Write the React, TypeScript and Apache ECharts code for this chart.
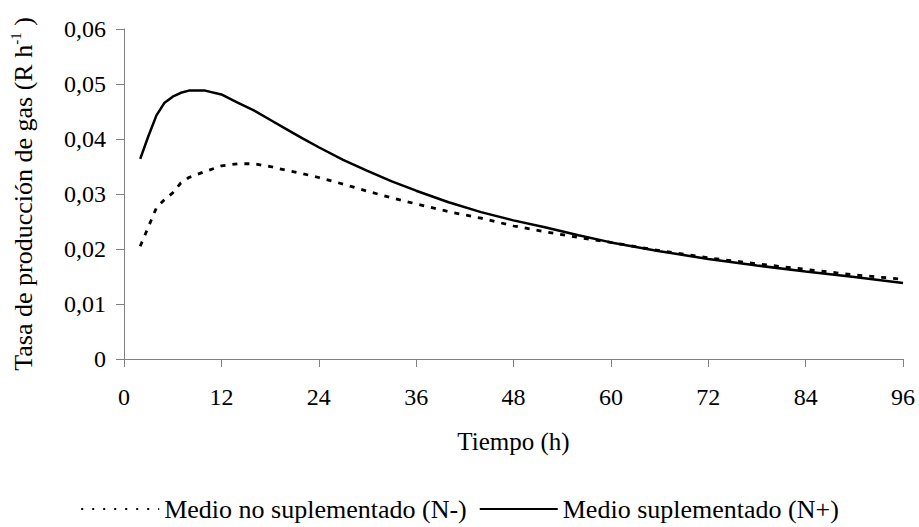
import React, { useEffect, useRef } from "react";
import * as echarts from "echarts";

const times = [2, 3, 4, 5, 6, 7, 8, 10, 12, 14, 16, 18, 20, 22, 24, 27, 30, 33, 36, 40, 44, 48, 52, 56, 60, 66, 72, 78, 84, 90, 96];
const supplemented = [0.0364, 0.0405, 0.0443, 0.0466, 0.0477, 0.0484, 0.0488, 0.0488, 0.0481, 0.0466, 0.0452, 0.0435, 0.0418, 0.0401, 0.0385, 0.0362, 0.0342, 0.0323, 0.0306, 0.0285, 0.0267, 0.0252, 0.0239, 0.0225, 0.0212, 0.0196, 0.0182, 0.0170, 0.0159, 0.0149, 0.0138];
const notSupplemented = [0.0205, 0.0240, 0.0275, 0.0290, 0.0302, 0.0320, 0.0330, 0.0341, 0.0351, 0.0355, 0.0355, 0.0350, 0.0343, 0.0337, 0.0330, 0.0318, 0.0305, 0.0293, 0.0282, 0.0268, 0.0256, 0.0242, 0.0231, 0.0221, 0.0212, 0.0197, 0.0184, 0.0173, 0.0163, 0.0153, 0.0145];
const seriesNames = ["Medio no suplementado (N-)", "Medio suplementado (N+)"];
const xTitle = "Tiempo (h)";

const FONT = "Times New Roman";
const rt = (size: number) => ({ fontFamily: FONT, fontSize: size, color: "#000" });

export default function App() {
  const ref = useRef<HTMLDivElement>(null);
  useEffect(() => {
    document.body.style.margin = "0";
    const chart = echarts.init(ref.current!, undefined, { renderer: "svg" });
    const axisColor = "#808080";
    chart.setOption({
      animation: false,
      backgroundColor: "#ffffff",
      textStyle: { fontFamily: FONT, color: "#000" },
      grid: { left: 118, right: 16, top: 29, bottom: 168 },
      xAxis: {
        type: "value",
        min: 0,
        max: 96,
        interval: 12,
        name: xTitle,
        nameLocation: "middle",
        nameGap: 70,
        nameTextStyle: rt(25),
        axisLine: { lineStyle: { color: axisColor, width: 1 } },
        axisTick: { show: true, length: 8, lineStyle: { color: axisColor } },
        axisLabel: { ...rt(24), margin: 26 },
        splitLine: { show: false },
      },
      yAxis: {
        type: "value",
        min: 0,
        max: 0.06,
        interval: 0.01,
        name: "{m|Tasa de producción de gas (R h}{s|-1}{m| )}",
        nameLocation: "middle",
        nameRotate: 90,
        nameGap: 88,
        nameTextStyle: {
          ...rt(26),
          rich: {
            m: { ...rt(26), lineHeight: 28, verticalAlign: "bottom" },
            s: { ...rt(15), lineHeight: 15, verticalAlign: "top" },
          },
        },
        axisLine: { show: true, lineStyle: { color: axisColor, width: 1 } },
        axisTick: { show: true, length: 8, lineStyle: { color: axisColor } },
        axisLabel: {
          ...rt(24),
          margin: 18,
          formatter: (v: number) => (v === 0 ? "0" : v.toFixed(2).replace(".", ",")),
        },
        splitLine: { show: false },
      },
      legend: {
        bottom: 0,
        left: "center",
        itemWidth: 78,
        itemHeight: 14,
        itemGap: 12,
        textStyle: rt(26),
        data: [
          { name: seriesNames[0], itemStyle: { opacity: 0, borderWidth: 0 }, lineStyle: { type: [2, 9], width: 2, color: "#000" } },
          { name: seriesNames[1], itemStyle: { opacity: 0, borderWidth: 0 }, lineStyle: { type: "solid", width: 2, color: "#000" } },
        ],
      },
      series: [
        {
          name: seriesNames[0],
          type: "line",
          symbol: "none",
          data: times.map((t, i) => [t, notSupplemented[i]]),
          lineStyle: { color: "#000", width: 2.8, type: [5, 7] },
          itemStyle: { color: "#000" },
        },
        {
          name: seriesNames[1],
          type: "line",
          symbol: "none",
          data: times.map((t, i) => [t, supplemented[i]]),
          lineStyle: { color: "#000", width: 2.5, type: "solid" },
          itemStyle: { color: "#000" },
        },
      ],
    });
    return () => chart.dispose();
  }, []);
  return <div ref={ref} style={{ width: 919, height: 527 }} />;
}
